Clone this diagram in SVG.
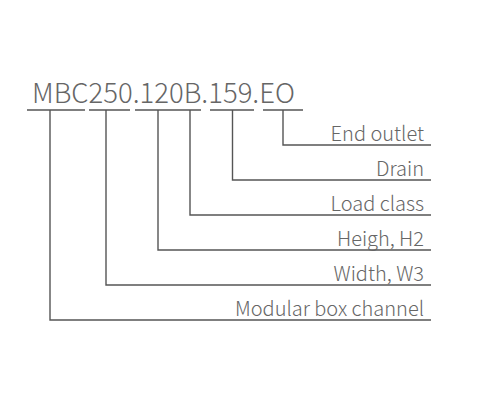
<svg xmlns="http://www.w3.org/2000/svg" width="480" height="400" viewBox="0 0 480 400">
<style>
.t{font-family:"Noto Sans CJK SC","Noto Sans",sans-serif;font-weight:300;fill:#666}
.lab{font-size:20px;text-anchor:end}
.ttl{font-size:27.5px}
.ln{fill:none;stroke:#555;stroke-width:1.4}
</style>
<rect width="480" height="400" fill="#fff"/>
<g id="code"><text class="t ttl" x="32" y="102.5">MBC250.120B.159.EO</text></g>
<g id="connectors">
<path class="ln" d="M27 110H85M89 110H130M135 110H201M210 110H254M263 110H303"/>
<path class="ln" d="M283 110V145H431"/>
<path class="ln" d="M232.5 110V180H431"/>
<path class="ln" d="M190 110V215H431"/>
<path class="ln" d="M158 110V250H431"/>
<path class="ln" d="M106 110V285H431"/>
<path class="ln" d="M50 110V320H431"/>
</g>
<g id="end-outlet"><text class="t lab" x="424" y="141">End outlet</text></g>
<g id="drain"><text class="t lab" x="424" y="176">Drain</text></g>
<g id="load-class"><text class="t lab" x="424" y="211">Load class</text></g>
<g id="heigh"><text class="t lab" x="424" y="246">Heigh, H2</text></g>
<g id="width"><text class="t lab" x="424" y="281">Width, W3</text></g>
<g id="modular"><text class="t lab" x="424" y="316">Modular box channel</text></g>
</svg>
